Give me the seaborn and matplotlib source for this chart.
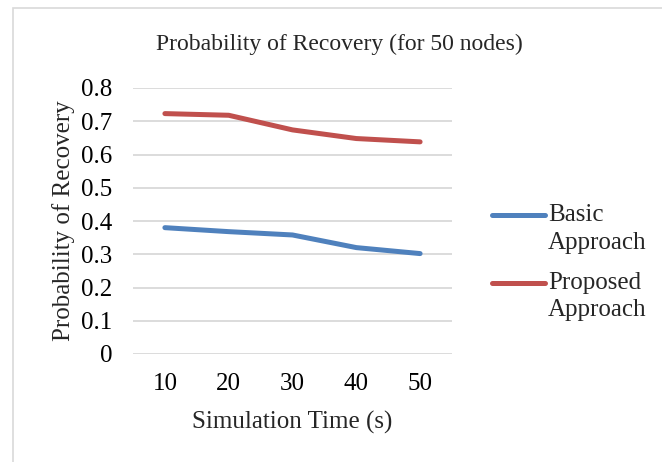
import matplotlib
matplotlib.use("Agg")
import matplotlib.pyplot as plt
import seaborn as sns
import pandas as pd
from matplotlib.patches import Rectangle
from matplotlib.lines import Line2D

times = ["10", "20", "30", "40", "50"]
basic = [0.380, 0.368, 0.358, 0.320, 0.302]
proposed = [0.723, 0.718, 0.674, 0.648, 0.638]
series_names = ["Basic\nApproach", "Proposed\nApproach"]
yticks = [0, 0.1, 0.2, 0.3, 0.4, 0.5, 0.6, 0.7, 0.8]
ytick_labels = ["0", "0.1", "0.2", "0.3", "0.4", "0.5", "0.6", "0.7", "0.8"]
colors = ["#4F81BD", "#C0504D"]

df = pd.DataFrame({
    "time": times * 2,
    "value": basic + proposed,
    "series": [series_names[0]] * len(times) + [series_names[1]] * len(times),
})

sns.set_theme(style="white")
plt.rcParams["font.family"] = ["Liberation Serif", "DejaVu Serif"]

fig = plt.figure(figsize=(6.62, 4.62), dpi=100)
ax = fig.add_axes([133/662, 1 - 354/462, (452-133)/662, (354-88)/462])

fig.patches.append(Rectangle((13/662, -0.1), 1, 1.1 - 8/462, transform=fig.transFigure,
                             fill=False, edgecolor="#D9D9D9", linewidth=1.2, zorder=0))

sns.lineplot(data=df, x="time", y="value", hue="series", ax=ax,
             palette=colors, linewidth=3.6, sort=False,
             solid_capstyle="round", legend=False)

ax.set_xlim(-0.5, 4.5)
ax.set_ylim(0, 0.8)
ax.set_yticks(yticks)
ax.set_yticklabels(ytick_labels)
ax.grid(axis="y", color="#D9D9D9", linewidth=1.3)
ax.grid(axis="x", visible=False)
ax.set_axisbelow(True)
for s in ax.spines.values():
    s.set_visible(False)
ax.tick_params(axis="both", length=0, labelsize=18, colors="black")
ax.tick_params(axis="y", pad=15)
ax.tick_params(axis="x", pad=14)
ax.set_xlabel("Simulation Time (s)", fontsize=18, labelpad=11)
ax.set_ylabel("Probability of Recovery", fontsize=18, labelpad=4)
fig.text(339/662, 1 - 44/462, "Probability of Recovery (for 50 nodes)",
         ha="center", va="center", fontsize=17)

# legend (Excel style: key aligned with first text line)
entries = [(215, 243), (283, 310)]
for (y1, y2), c, name in zip(entries, colors, series_names):
    first, second = name.split("\n")
    fig.add_artist(Line2D([492/662, 545/662], [1 - y1/462, 1 - y1/462],
                          transform=fig.transFigure, color=c, linewidth=3.6,
                          solid_capstyle="round"))
    fig.text(548/662, 1 - y1/462, first, ha="left", va="center", fontsize=18)
    fig.text(548/662, 1 - y2/462, second, ha="left", va="center", fontsize=18)

fig.savefig("out.png", dpi=100)
